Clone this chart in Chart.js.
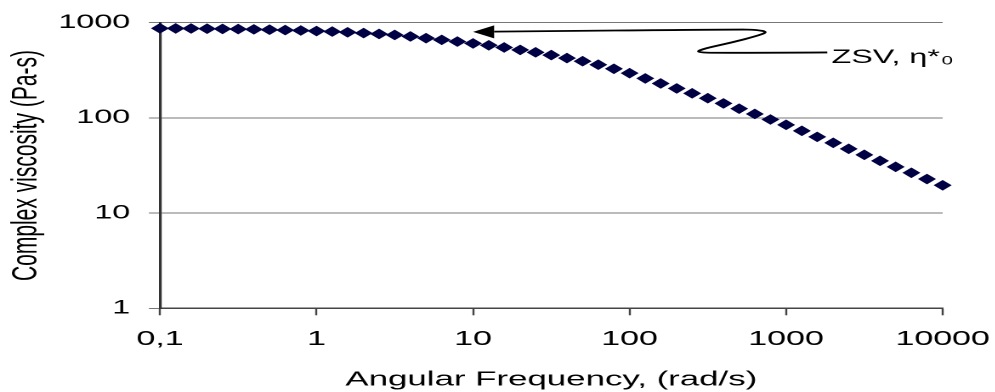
<!DOCTYPE html>
<html>
<head>
<meta charset="utf-8">
<script src="https://cdn.jsdelivr.net/npm/chart.js@4.4.1/dist/chart.umd.min.js"></script>
<style>
html, body { margin: 0; padding: 0; background: #fff; overflow: hidden; }
/* the original picture is stretched sideways, so the chart is drawn narrow and widened */
#wrap { width: 585.3px; height: 392px; transform: scaleX(1.7); transform-origin: 0 0; }
</style>
</head>
<body>
<div id="wrap"><canvas id="myChart"></canvas></div>
<script>
// angular frequency (rad/s), 10 points per decade
const freq = [0.1, 0.126, 0.158, 0.2, 0.251, 0.316, 0.398, 0.501, 0.631, 0.794,
    1, 1.26, 1.58, 2, 2.51, 3.16, 3.98, 5.01, 6.31, 7.94,
    10, 12.6, 15.8, 20, 25.1, 31.6, 39.8, 50.1, 63.1, 79.4,
    100, 126, 158, 200, 251, 316, 398, 501, 631, 794,
    1000, 1260, 1580, 2000, 2510, 3160, 3980, 5010, 6310, 7940, 10000];

// complex viscosity (Pa-s)
const viscosity = [873, 871, 869, 865, 861, 857, 851, 844, 836, 828,
    818, 807, 793, 778, 761, 743, 717, 688, 660, 633,
    606, 579, 549, 518, 488, 457, 425, 394, 362, 328,
    295, 260, 230, 204, 181, 161, 142, 125, 110, 96.2,
    84.5, 73.1, 63.2, 54.7, 47.3, 40.9, 35.4, 30.6, 26.5, 22.8, 19.6];

const xTicks = [0.1, 1, 10, 100, 1000, 10000];
const xTickLabels = ['0,1', '1', '10', '100', '1000', '10000'];
const yTicks = [1, 10, 100, 1000];
const yTickLabels = ['1', '10', '100', '1000'];

// annotation: arrow points at the plateau, label sits further right
const arrowTip = [10, 800];
const labelAt = [2000, 480];
const labelText = 'ZSV, η*';
const labelSub = '0';

Chart.defaults.font.family = '"Liberation Sans", Arial, sans-serif';
Chart.defaults.color = '#000';

const points = freq.map((f, i) => ({x: f, y: viscosity[i]}));

// squiggly leader line, offsets from the label point (unstretched px)
const squiggle = [[-3.5, -0.6], [-68, 0], [-81, -0.8], [-76, -4.5], [-59.5, -10.6],
    [-45, -17], [-38.5, -21], [-45, -23.3], [-56.5, -23.6]];

const zsvArrow = {
    id: 'zsvArrow',
    afterDatasetsDraw(chart) {
        const ctx = chart.ctx;
        const xs = chart.scales.x;
        const ys = chart.scales.y;
        const tx = xs.getPixelForValue(arrowTip[0]);
        const ty = ys.getPixelForValue(arrowTip[1]);
        const lx = xs.getPixelForValue(labelAt[0]);
        const ly = ys.getPixelForValue(labelAt[1]);
        const headLen = 12.4;

        const pts = squiggle.map(p => [lx + p[0], ly + p[1]]);
        pts.push([tx + headLen, ty - 0.3]);

        ctx.save();
        ctx.strokeStyle = '#000';
        ctx.fillStyle = '#000';
        ctx.lineWidth = 1.8;
        ctx.beginPath();
        ctx.moveTo(pts[0][0], pts[0][1]);
        for (let i = 1; i < pts.length - 1; i++) {
            const mx = (pts[i][0] + pts[i + 1][0]) / 2;
            const my = (pts[i][1] + pts[i + 1][1]) / 2;
            ctx.quadraticCurveTo(pts[i][0], pts[i][1], mx, my);
        }
        ctx.lineTo(pts[pts.length - 1][0], pts[pts.length - 1][1]);
        ctx.stroke();

        // arrow head
        ctx.beginPath();
        ctx.moveTo(tx, ty);
        ctx.lineTo(tx + headLen, ty - 6.5);
        ctx.lineTo(tx + headLen, ty + 6.5);
        ctx.closePath();
        ctx.fill();

        // label
        ctx.textBaseline = 'alphabetic';
        ctx.textAlign = 'left';
        ctx.font = '19px "Liberation Sans", Arial, sans-serif';
        ctx.fillText(labelText, lx - 1, ly + 10.2);
        const w = ctx.measureText(labelText).width;
        ctx.font = '12px "Liberation Sans", Arial, sans-serif';
        ctx.fillText(labelSub, lx - 1 + w + 1, ly + 11.5);
        ctx.restore();
    }
};

const ctx = document.getElementById('myChart').getContext('2d');

const myChart = new Chart(ctx, {
    type: 'scatter',
    data: {
        datasets: [{
            data: points,
            pointStyle: 'rectRot',
            pointRadius: 4.6,
            pointBorderWidth: 1,
            backgroundColor: '#000044',
            borderColor: '#000044',
            showLine: false,
            clip: false
        }]
    },
    options: {
        responsive: true,
        maintainAspectRatio: false,
        animation: false,
        devicePixelRatio: 2,
        layout: { padding: { left: 0, right: 30.8, top: 22.7, bottom: 0 } },
        plugins: {
            legend: { display: false },
            tooltip: { enabled: false }
        },
        scales: {
            x: {
                type: 'logarithmic',
                min: 0.1,
                max: 10000,
                afterBuildTicks: s => { s.ticks = xTicks.map(v => ({value: v})); },
                // fixed axis box; label overflow is covered by the layout padding
                afterFit: s => { s.height = 83.7; s.paddingLeft = 0; s.paddingRight = 0; },
                ticks: {
                    autoSkip: false,
                    maxRotation: 0,
                    padding: 12,
                    color: '#000',
                    font: { size: 20 },
                    callback: v => xTickLabels[xTicks.indexOf(v)]
                },
                grid: {
                    drawOnChartArea: false,
                    drawTicks: true,
                    tickLength: 7,
                    tickColor: '#444',
                    tickWidth: 1.2
                },
                border: { display: true, color: '#444', width: 1.5 },
                title: {
                    display: true,
                    text: 'Angular Frequency, (rad/s)',
                    color: '#000',
                    font: { size: 20.5 },
                    padding: { top: 0, bottom: 0 }
                }
            },
            y: {
                type: 'logarithmic',
                min: 1,
                max: 1000,
                afterBuildTicks: s => { s.ticks = yTicks.map(v => ({value: v})); },
                afterFit: s => { s.width = 94.1; },
                ticks: {
                    autoSkip: false,
                    padding: 11,
                    color: '#000',
                    font: { size: 19 },
                    callback: v => yTickLabels[yTicks.indexOf(v)]
                },
                grid: {
                    color: '#777',
                    lineWidth: 1,
                    drawTicks: true,
                    tickLength: 6.5,
                    tickColor: '#777'
                },
                border: { display: true, color: '#333', width: 1.6 },
                title: {
                    display: true,
                    text: 'Complex viscosity (Pa-s)',
                    color: '#000',
                    font: { size: 21 },
                    padding: { top: 3.3, bottom: 0 }
                }
            }
        }
    },
    plugins: [zsvArrow]
});
</script>
</body>
</html>
